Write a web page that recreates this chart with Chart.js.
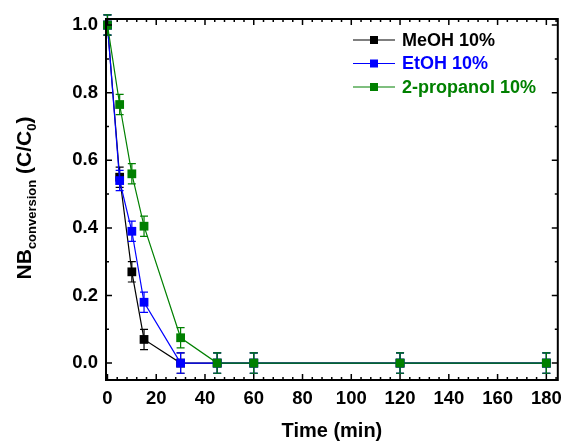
<!DOCTYPE html>
<html>
<head>
<meta charset="utf-8">
<script src="https://cdn.jsdelivr.net/npm/chart.js@4.4.1/dist/chart.umd.min.js"></script>
<style>
  html, body { margin: 0; padding: 0; background: #fff; }
  #wrap { width: 564px; height: 441px; }
</style>
</head>
<body>
<div id="wrap"><canvas id="nbChart" width="564" height="441"></canvas></div>
<script>
// sampling times (min)
var timeMin = [0, 5, 10, 15, 30, 45, 60, 120, 180];

// C/C0 for each solvent
var meohValues = [1.0, 0.55, 0.27, 0.07, 0, 0, 0, 0, 0];
var etohValues = [1.0, 0.54, 0.39, 0.18, 0, 0, 0, 0, 0];
var propValues = [1.0, 0.765, 0.56, 0.405, 0.075, 0, 0, 0, 0];

// error bars (+/-)
var meohErr = [0.03, 0.03, 0.03, 0.03, 0.03, 0.03, 0.03, 0.03, 0.03];
var etohErr = [0.03, 0.03, 0.03, 0.03, 0.03, 0.03, 0.03, 0.03, 0.03];
var propErr = [0.03, 0.03, 0.03, 0.03, 0.03, 0.03, 0.03, 0.03, 0.03];

var seriesNames = ['MeOH 10%', 'EtOH 10%', '2-propanol 10%'];
var seriesColors = ['#000000', '#0000ff', '#008000'];

// axis ticks
var xTicks = [0, 20, 40, 60, 80, 100, 120, 140, 160, 180];
var yTicks = [0, 0.2, 0.4, 0.6, 0.8, 1.0];

var FONT = "'Liberation Sans', Arial, sans-serif";

function makeSet(i, values, errs, order) {
    return {
        label: seriesNames[i],
        data: timeMin.map(function (t, k) { return { x: t, y: values[k] }; }),
        errors: errs,
        borderColor: seriesColors[i],
        backgroundColor: seriesColors[i],
        borderWidth: 1.2,
        pointStyle: 'rect',
        pointRadius: 6.2,
        pointBorderWidth: 0,
        pointHoverRadius: 6.2,
        tension: 0,
        clip: false,
        order: order
    };
}

// error bars, drawn right after each dataset so layering follows the lines
var errorBars = {
    id: 'errorBars',
    afterDatasetDraw: function (chart, args) {
        var ctx = chart.ctx;
        var ds = chart.data.datasets[args.index];
        var y = chart.scales.y;
        ctx.save();
        ctx.strokeStyle = ds.borderColor;
        ctx.lineWidth = 1.2;
        ctx.beginPath();
        args.meta.data.forEach(function (pt, k) {
            var v = ds.data[k].y, e = ds.errors[k];
            var top = y.getPixelForValue(v + e);
            var bot = y.getPixelForValue(v - e);
            ctx.moveTo(pt.x, top); ctx.lineTo(pt.x, bot);
            ctx.moveTo(pt.x - 4, top); ctx.lineTo(pt.x + 4, top);
            ctx.moveTo(pt.x - 4, bot); ctx.lineTo(pt.x + 4, bot);
        });
        ctx.stroke();
        ctx.restore();
    }
};

// closed frame with inward major/minor ticks on all four sides
var frameTicks = {
    id: 'frameTicks',
    afterDraw: function (chart) {
        var ctx = chart.ctx, a = chart.chartArea;
        var x = chart.scales.x, y = chart.scales.y;
        ctx.save();
        ctx.strokeStyle = '#000';
        ctx.lineWidth = 1.5;
        ctx.beginPath();
        for (var v = 0; v <= x.max; v += 4) {
            var px = x.getPixelForValue(v);
            var len = (v % 20 === 0) ? 6 : 3;
            ctx.moveTo(px, a.bottom); ctx.lineTo(px, a.bottom - len);
            ctx.moveTo(px, a.top); ctx.lineTo(px, a.top + len);
        }
        for (var i = 0; i <= 10; i++) {
            var py = y.getPixelForValue(i / 10);
            var l2 = (i % 2 === 0) ? 6 : 3;
            ctx.moveTo(a.left, py); ctx.lineTo(a.left + l2, py);
            ctx.moveTo(a.right, py); ctx.lineTo(a.right - l2, py);
        }
        ctx.stroke();
        ctx.lineWidth = 2;
        ctx.strokeRect(a.left, a.top, a.right - a.left, a.bottom - a.top);
        ctx.restore();
    }
};

// y title with subscripts: NB_conversion (C/C_0)
var yTitle = {
    id: 'yTitle',
    afterDraw: function (chart) {
        var ctx = chart.ctx;
        var parts = [
            { t: 'NB', big: true },
            { t: 'conversion', big: false },
            { t: ' (C/C', big: true },
            { t: '0', big: false },
            { t: ')', big: true }
        ];
        var bigFont = 'bold 21px ' + FONT, smallFont = 'bold 13px ' + FONT;
        ctx.save();
        var total = 0;
        parts.forEach(function (p) {
            ctx.font = p.big ? bigFont : smallFont;
            p.w = ctx.measureText(p.t).width;
            total += p.w;
        });
        ctx.translate(31, 198);
        ctx.rotate(-Math.PI / 2);
        ctx.fillStyle = '#000';
        ctx.textBaseline = 'alphabetic';
        var cx = -total / 2;
        parts.forEach(function (p) {
            ctx.font = p.big ? bigFont : smallFont;
            ctx.fillText(p.t, cx, p.big ? 0 : 5);
            cx += p.w;
        });
        ctx.restore();
    }
};

// legend: line with square marker, coloured label
var lineLegend = {
    id: 'lineLegend',
    afterDraw: function (chart) {
        var ctx = chart.ctx;
        ctx.save();
        ctx.font = 'bold 18px ' + FONT;
        ctx.textBaseline = 'middle';
        seriesNames.forEach(function (name, i) {
            var ry = 40 + i * 23.5;
            ctx.strokeStyle = seriesColors[i];
            ctx.fillStyle = seriesColors[i];
            ctx.lineWidth = 1.2;
            ctx.beginPath();
            ctx.moveTo(353, ry); ctx.lineTo(395, ry);
            ctx.stroke();
            ctx.fillRect(374 - 4, ry - 4, 8, 8);
            ctx.fillText(name, 402, ry + 1);
        });
        ctx.restore();
    }
};

var tickFont = { family: FONT, size: 18.5, weight: 'bold' };

new Chart(document.getElementById('nbChart'), {
    type: 'line',
    data: {
        datasets: [
            makeSet(0, meohValues, meohErr, 3),
            makeSet(1, etohValues, etohErr, 2),
            makeSet(2, propValues, propErr, 1)
        ]
    },
    options: {
        responsive: false,
        devicePixelRatio: 1,
        animation: false,
        layout: { padding: { top: 19, right: 5, left: 0, bottom: 0 } },
        plugins: {
            legend: { display: false },
            tooltip: { enabled: false }
        },
        scales: {
            x: {
                type: 'linear',
                min: -0.6,
                max: 184.7,
                afterBuildTicks: function (axis) {
                    axis.ticks = xTicks.map(function (v) { return { value: v }; });
                },
                afterFit: function (axis) {
                    axis.height = 61;
                    axis.paddingLeft = 0;
                    axis.paddingRight = 0;
                },
                grid: { display: false, drawTicks: false, tickLength: 0 },
                border: { display: false },
                ticks: {
                    font: tickFont,
                    color: '#000',
                    padding: 8,
                    maxRotation: 0,
                    autoSkip: false
                },
                title: {
                    display: true,
                    text: 'Time (min)',
                    color: '#000',
                    font: { family: FONT, size: 20, weight: 'bold' },
                    padding: { top: 0, bottom: -2 }
                }
            },
            y: {
                min: -0.05,
                max: 1.018,
                afterBuildTicks: function (axis) {
                    axis.ticks = yTicks.map(function (v) { return { value: v }; });
                },
                afterFit: function (axis) {
                    axis.width = 106;
                    axis.paddingTop = 0;
                    axis.paddingBottom = 0;
                },
                grid: { display: false, drawTicks: false, tickLength: 0 },
                border: { display: false },
                ticks: {
                    font: tickFont,
                    color: '#000',
                    padding: 8,
                    callback: function (v) { return v.toFixed(1); }
                }
            }
        }
    },
    plugins: [errorBars, frameTicks, yTitle, lineLegend]
});
</script>
</body>
</html>
